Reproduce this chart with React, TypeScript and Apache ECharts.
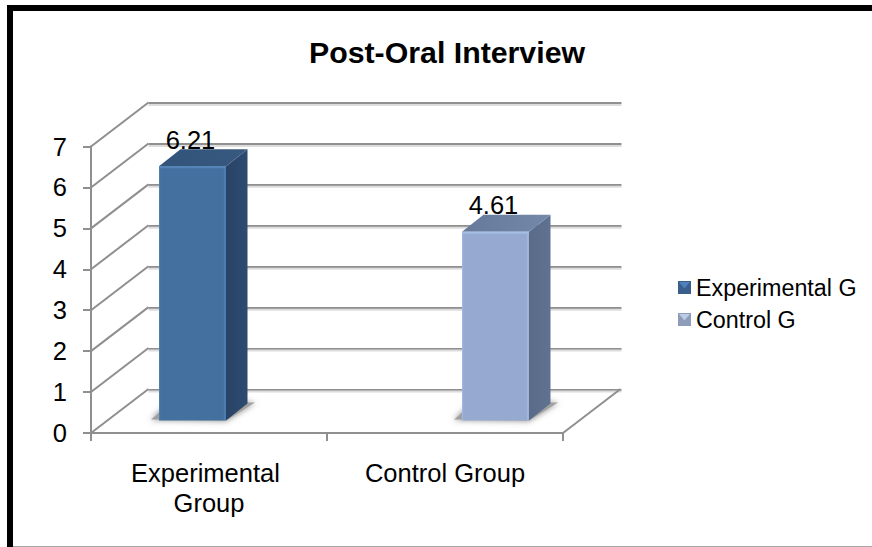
import React, { useEffect, useRef } from "react";
import * as echarts from "echarts";

const chartTitle = "Post-Oral Interview";
const categories = ["Experimental Group", "Control Group"];
const seriesNames = ["Experimental G", "Control G"];
const experimentalValues = [6.21, null];
const controlValues = [null, 4.61];
const yTicks = [0, 1, 2, 3, 4, 5, 6, 7];

const FONT = '"Liberation Sans", Arial, sans-serif';
const WALL_DX = 57.5;
const WALL_DY = 44;
const BAR_WIDTH = 67;
const BAR_DX = 21.5;
const BAR_DY = 17;
const BAR_SHIFT_X = 17;
const BAR_SHIFT_Y = -12.5;
const LINE_COLOR = "#8f8f8f";

type Palette = { front: string; edge: string; side: string; sideDark: string; top: string; topDark: string };
const experimentalPalette: Palette = {
  front: "#44709f", edge: "#5383b8", side: "#2d4a70", sideDark: "#294365", top: "#37597f", topDark: "#32537a",
};
const controlPalette: Palette = {
  front: "#95a9d1", edge: "#a5bde2", side: "#5f7290", sideDark: "#596b88", top: "#7389a9", topDark: "#66799a",
};

// Draws one box: floor shadow, front, side and top faces, and the value above it.
function boxRenderer(palette: Palette, slot: number) {
  return (_params: any, api: any) => {
    const cat = api.value(0);
    const val = api.value(1);
    const base = api.coord([cat, 0]);
    const head = api.coord([cat, val]);
    const cx = base[0] + BAR_SHIFT_X + slot * 33.5;
    const x0 = cx - BAR_WIDTH / 2;
    const x1 = cx + BAR_WIDTH / 2;
    const yb = base[1] + BAR_SHIFT_Y;
    const yt = head[1] + BAR_SHIFT_Y;
    return {
      type: "group",
      children: [
        {
          type: "polygon",
          shape: {
            points: [
              [x0 - 8, yb - 1],
              [x1, yb],
              [x1 + 29, yb - 18],
              [x0 + 12, yb - 18],
            ],
          },
          style: { fill: "#a0a0a0", shadowBlur: 6, shadowColor: "#808080" },
        },
        {
          type: "polygon",
          shape: { points: [[x1, yt], [x1 + BAR_DX, yt - BAR_DY], [x1 + BAR_DX, yb - BAR_DY], [x1, yb]] },
          style: { fill: new echarts.graphic.LinearGradient(0, 0, 1, 0, [
            { offset: 0, color: palette.sideDark },
            { offset: 1, color: palette.side },
          ]) },
        },
        {
          type: "polygon",
          shape: { points: [[x0, yt], [x0 + BAR_DX, yt - BAR_DY], [x1 + BAR_DX, yt - BAR_DY], [x1, yt]] },
          style: { fill: new echarts.graphic.LinearGradient(0, 0, 1, 0, [
            { offset: 0, color: palette.topDark },
            { offset: 1, color: palette.top },
          ]) },
        },
        {
          type: "rect",
          shape: { x: x0, y: yt, width: BAR_WIDTH, height: yb - yt },
          style: { fill: new echarts.graphic.LinearGradient(0, 0, 1, 0, [
            { offset: 0, color: palette.edge },
            { offset: 0.025, color: palette.front },
            { offset: 0.96, color: palette.front },
            { offset: 0.985, color: palette.edge },
            { offset: 1, color: palette.front },
          ]) },
        },
        {
          type: "rect",
          shape: { x: x0, y: yt, width: BAR_WIDTH, height: 2 },
          style: { fill: palette.edge },
        },
        {
          type: "text",
          style: {
            text: String(val),
            x: cx - 2,
            y: yt - 13.5,
            align: "center",
            verticalAlign: "bottom",
            fill: "#000",
            font: `25.5px ${FONT}`,
          },
        },
      ],
    };
  };
}

// Slanted lines of the side wall, starting on the value axis.
function sideWallRenderer(params: any, api: any) {
  const p = api.coord([0, api.value(0)]);
  const x = params.coordSys.x;
  return {
    type: "line",
    shape: { x1: x, y1: p[1], x2: x + WALL_DX, y2: p[1] - WALL_DY },
    style: { stroke: LINE_COLOR, lineWidth: 2 },
  };
}

// Right edge of the floor.
function floorEdgeRenderer(params: any, api: any) {
  const p = api.coord([0, 0]);
  const x = params.coordSys.x + params.coordSys.width;
  return {
    type: "line",
    shape: { x1: x, y1: p[1], x2: x + WALL_DX, y2: p[1] - WALL_DY },
    style: { stroke: LINE_COLOR, lineWidth: 2 },
  };
}

// Pale band running under every line of the back wall.
function wallBandRenderer(params: any, api: any) {
  const p = api.coord([0, api.value(0)]);
  return {
    type: "rect",
    shape: { x: params.coordSys.x, y: p[1] + 1, width: params.coordSys.width, height: 2 },
    style: { fill: "#dcdcdc" },
  };
}

function legendBevel(x: number, y: number, fill: string) {
  return {
    type: "polygon",
    silent: true,
    z: 20,
    shape: { points: [[x + 1, y + 1], [x + 12, y + 1], [x + 6.5, y + 7.5]] },
    style: { fill },
  };
}

export default function App() {
  const ref = useRef<HTMLDivElement>(null);

  useEffect(() => {
    const chart = echarts.init(ref.current!, undefined, { renderer: "svg" });
    chart.setOption({
      animation: false,
      backgroundColor: "#ffffff",
      title: {
        text: chartTitle,
        left: 442,
        top: 32,
        textAlign: "center",
        textStyle: { fontFamily: FONT, fontSize: 30.3, fontWeight: "bold", color: "#000" },
      },
      legend: {
        orient: "vertical",
        left: 678,
        top: 276,
        padding: 0,
        itemWidth: 13,
        itemHeight: 13,
        itemGap: 9,
        selectedMode: false,
        textStyle: { fontFamily: FONT, fontSize: 23.3, color: "#000" },
        data: [
          { name: seriesNames[0], icon: "rect", itemStyle: { color: "#3a5f8c" } },
          { name: seriesNames[1], icon: "rect", itemStyle: { color: "#8d9cb8" } },
        ],
      },
      grid: [
        { left: 91, top: 146.5, width: 472, height: 286.5 },
        { left: 148.5, top: 103, width: 473, height: 286.5 },
      ],
      xAxis: [
        {
          type: "category",
          gridIndex: 0,
          data: categories,
          boundaryGap: true,
          axisLine: { lineStyle: { color: LINE_COLOR, width: 2 } },
          axisTick: { show: true, length: 8, lineStyle: { color: LINE_COLOR, width: 2 } },
          axisLabel: {
            interval: 0,
            margin: 25,
            color: "#000",
            fontFamily: FONT,
            fontSize: 25.5,
            lineHeight: 30,
            width: 190,
            overflow: "break",
          },
        },
        { type: "category", gridIndex: 1, data: categories, show: false },
      ],
      yAxis: [
        {
          type: "value",
          gridIndex: 0,
          min: 0,
          max: 7,
          interval: 1,
          splitLine: { show: false },
          axisLine: { show: true, lineStyle: { color: LINE_COLOR, width: 2 } },
          axisTick: { show: true, length: 8, lineStyle: { color: LINE_COLOR, width: 2 } },
          axisLabel: { margin: 24, color: "#000", fontFamily: FONT, fontSize: 25.5 },
        },
        {
          type: "value",
          gridIndex: 1,
          min: 0,
          max: 7,
          interval: 1,
          axisLine: { show: false },
          axisTick: { show: false },
          axisLabel: { show: false },
          splitLine: { show: true, lineStyle: { color: LINE_COLOR, width: 2 } },
        },
      ],
      series: [
        {
          type: "custom",
          name: "wall-band",
          xAxisIndex: 1,
          yAxisIndex: 1,
          silent: true,
          z: 1,
          clip: false,
          data: yTicks.map((t) => [t]),
          renderItem: wallBandRenderer,
        },
        {
          type: "custom",
          name: "side-wall",
          xAxisIndex: 0,
          yAxisIndex: 0,
          silent: true,
          z: 1,
          clip: false,
          data: yTicks.map((t) => [t]),
          renderItem: sideWallRenderer,
        },
        {
          type: "custom",
          name: "floor-edge",
          xAxisIndex: 0,
          yAxisIndex: 0,
          silent: true,
          z: 1,
          clip: false,
          data: [[0]],
          renderItem: floorEdgeRenderer,
        },
        {
          type: "custom",
          name: seriesNames[0],
          xAxisIndex: 0,
          yAxisIndex: 0,
          silent: true,
          z: 3,
          clip: false,
          itemStyle: { color: "#3a5f8c" },
          data: experimentalValues.flatMap((v, i) => (v === null ? [] : [[i, v]])),
          renderItem: boxRenderer(experimentalPalette, -1),
        },
        {
          type: "custom",
          name: seriesNames[1],
          xAxisIndex: 0,
          yAxisIndex: 0,
          silent: true,
          z: 3,
          clip: false,
          itemStyle: { color: "#8d9cb8" },
          data: controlValues.flatMap((v, i) => (v === null ? [] : [[i, v]])),
          renderItem: boxRenderer(controlPalette, 1),
        },
      ],
      graphic: [
        { type: "rect", silent: true, z: 30, shape: { x: 7, y: 5, width: 865, height: 6 }, style: { fill: "#000" } },
        { type: "rect", silent: true, z: 30, shape: { x: 7, y: 5, width: 6, height: 542 }, style: { fill: "#000" } },
        { type: "rect", silent: true, z: 30, shape: { x: 13, y: 546, width: 859, height: 1 }, style: { fill: "#a8a8a8" } },
        legendBevel(678, 281, "#4f80bb"),
        legendBevel(678, 313, "#bccbe6"),
      ],
    });
    return () => chart.dispose();
  }, []);

  return (
    <div
      ref={ref}
      style={{ position: "absolute", left: 0, top: 0, width: 872, height: 547 }}
    />
  );
}
